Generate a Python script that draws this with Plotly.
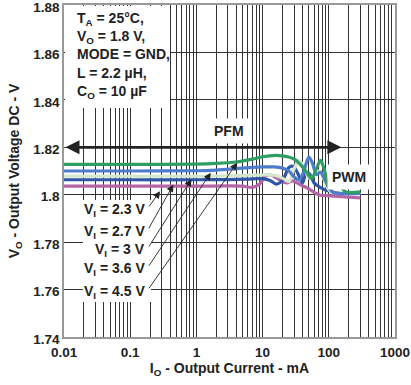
import math
import plotly.graph_objects as go

# ---- data ----
x_23 = [0.01, 0.1, 1, 3, 5, 7, 9, 11, 13, 16, 20, 24, 28, 33, 40, 50, 60, 75, 90, 120, 200, 300]
y_23 = [1.8036, 1.8036, 1.8036, 1.8037, 1.8036, 1.8031, 1.8045, 1.8078, 1.8083, 1.8072, 1.8055,
        1.8050, 1.8058, 1.8050, 1.8038, 1.8025, 1.8010, 1.7998, 1.7996, 1.7994, 1.7990, 1.7987]

x_27 = [0.01, 0.1, 1, 3, 6, 10, 13, 16, 20, 25, 29, 34, 40, 46, 52, 60, 75, 100, 150, 300]
y_27 = [1.8063, 1.8063, 1.8063, 1.8064, 1.8066, 1.8068, 1.8060, 1.8045, 1.8060, 1.8115, 1.8120,
        1.8090, 1.8050, 1.8095, 1.8085, 1.8050, 1.8030, 1.8015, 1.8005, 1.8005]

x_30 = [0.01, 0.1, 1, 3, 6, 10, 15, 20, 25, 30, 35, 42, 50, 60, 70, 80, 95, 110, 150, 300]
y_30 = [1.8078, 1.8078, 1.8078, 1.8080, 1.8082, 1.8084, 1.8082, 1.8070, 1.8055, 1.8110, 1.8145,
        1.8120, 1.8070, 1.8080, 1.8100, 1.8080, 1.8030, 1.8010, 1.8005, 1.8004]

x_36 = [0.01, 0.1, 1, 2, 4, 7, 10, 15, 20, 25, 30, 36, 42, 50, 57, 65, 75, 85, 100, 120, 160, 300]
y_36 = [1.8100, 1.8100, 1.8101, 1.8104, 1.8110, 1.8115, 1.8117, 1.8117, 1.8112, 1.8100, 1.8075,
        1.8062, 1.8100, 1.8160, 1.8130, 1.8085, 1.8095, 1.8070, 1.8030, 1.8008, 1.8006, 1.8006]

x_45 = [0.01, 0.1, 1, 2, 4, 7, 10, 14, 18, 24, 30, 38, 46, 55, 65, 75, 85, 100, 115, 130, 150, 180, 300]
y_45 = [1.8128, 1.8128, 1.8129, 1.8132, 1.8138, 1.8150, 1.8160, 1.8165, 1.8165, 1.8160, 1.8150,
        1.8125, 1.8095, 1.8068, 1.8110, 1.8145, 1.8110, 1.8030, 1.8050, 1.8085, 1.8040, 1.8012, 1.8012]

series = [
    ("V<sub>I</sub> = 2.3 V", x_23, y_23, "#b565a7"),
    ("V<sub>I</sub> = 2.7 V", x_27, y_27, "#2f55a4"),
    ("V<sub>I</sub> = 3 V", x_30, y_30, "#d4e6cc"),
    ("V<sub>I</sub> = 3.6 V", x_36, y_36, "#4d7ccc"),
    ("V<sub>I</sub> = 4.5 V", x_45, y_45, "#2f9e62"),
]

# arrow tips (current mA, voltage V) for each label
tip_x = [0.283, 0.449, 0.843, 1.65, 4.14]
tip_y = [1.8015, 1.8043, 1.8065, 1.8093, 1.8135]

x_tick_vals = [0.01, 0.1, 1, 10, 100, 1000]
x_tick_text = ["0.01", "0.1", "1", "10", "100", "1000"]
y_tick_vals = [1.74, 1.76, 1.78, 1.80, 1.82, 1.84, 1.86, 1.88]
y_tick_text = ["1.74", "1.76", "1.78", "1.8", "1.82", "1.84", "1.86", "1.88"]

pfm_end = 155  # mA

# ---- figure ----
FONT = "Liberation Sans, Arial, sans-serif"
TXT = "#222"
fig = go.Figure()
for name, xs, ys, col in series:
    fig.add_trace(go.Scatter(x=xs, y=ys, mode="lines", name=name,
                             line=dict(color=col, width=3.2, shape="spline", smoothing=0.8),
                             showlegend=False, hoverinfo="skip"))

# minor grid values: 2..9 per decade
minor_vals = []
for d in range(-2, 3):
    for m in range(2, 10):
        minor_vals.append(m * 10 ** d)

W, H = 411, 385
L, R, T, B = 64, 16, 5, 48
pw, ph = W - L - R, H - T - B

def px_x(px):
    return (px - L) / pw

def px_y(py):
    return 1 - (py - T) / ph

EPS_X = 0.0004
EPS_Y = 0.00002
fig.update_layout(
    width=W, height=H,
    margin=dict(l=L, r=R, t=T, b=B, autoexpand=False),
    paper_bgcolor="white", plot_bgcolor="white",
    font=dict(family=FONT, size=13, color=TXT, weight="bold"),
    xaxis=dict(type="log", range=[-2 - EPS_X, 3 + EPS_X], tickvals=x_tick_vals, ticktext=x_tick_text,
               automargin=False, ticklabeloverflow="allow", ticklabelstandoff=2,
               showgrid=True, gridcolor="#333", gridwidth=1,
               minor=dict(tickvals=minor_vals, showgrid=True, gridcolor="#333", gridwidth=1, ticks=""),
               ticks="", showline=True, linecolor="#999", linewidth=1.5, mirror=True,
               zeroline=False, tickfont=dict(size=13.5, weight="bold", color=TXT),
               title=dict(text="I<sub>O</sub> - Output Current - mA", standoff=4,
                          font=dict(size=14, weight="bold", color=TXT))),
    yaxis=dict(range=[1.74 - EPS_Y, 1.88 + EPS_Y], tickvals=y_tick_vals, ticktext=y_tick_text,
               automargin=False, ticklabeloverflow="allow", ticklabelshift=2,
               showgrid=True, gridcolor="#333", gridwidth=1,
               ticks="", showline=True, linecolor="#999", linewidth=1.5, mirror=True,
               zeroline=False, tickfont=dict(size=13.5, weight="bold", color=TXT),
               title=dict(text="V<sub>O</sub> - Output Voltage DC - V", standoff=10,
                          font=dict(size=14, weight="bold", color=TXT))),
)

shapes = [
    # top-left condition box
    dict(type="rect", xref="paper", yref="paper", x0=0.003, x1=px_x(170), y0=px_y(108), y1=0.997,
         fillcolor="white", line=dict(width=0), layer="above"),
    # label box
    dict(type="rect", xref="paper", yref="paper", x0=px_x(83), x1=px_x(151), y0=px_y(302), y1=px_y(200),
         fillcolor="white", line=dict(width=0), layer="above"),
]
fig.update_layout(shapes=shapes)

ann = []
ann.append(dict(xref="paper", yref="paper", x=px_x(75), y=px_y(8), xanchor="left", yanchor="top",
                align="left", showarrow=False,
                text="T<sub>A</sub> = 25°C,<br>V<sub>O</sub> = 1.8 V,<br>MODE = GND,<br>L = 2.2 µH,<br>C<sub>O</sub> = 10 µF",
                font=dict(size=14, weight="bold", color=TXT)))
ann.append(dict(xref="paper", yref="paper", x=px_x(229), y=px_y(131), showarrow=False,
                text="PFM", bgcolor="white", borderpad=4, font=dict(size=14, weight="bold", color=TXT)))
ann.append(dict(xref="paper", yref="paper", x=px_x(371), y=px_y(177), showarrow=False,
                text="PWM", bgcolor="white", borderpad=4, font=dict(size=14, weight="bold", color=TXT)))
# PFM double-headed arrow
ann.append(dict(x=math.log10(pfm_end), y=1.82, ax=-2, ay=1.82, axref="x", ayref="y",
                xref="x", yref="y", showarrow=True, arrowhead=2, arrowside="end+start",
                arrowsize=1.0, arrowwidth=2.8, arrowcolor=TXT, text=""))

label_y_px = [210, 231.7, 250, 269.3, 291.7]
label_end_px = 147
for (name, xs, ys, col), tx, ty, ly in zip(series, tip_x, tip_y, label_y_px):
    ann.append(dict(xref="paper", yref="paper", x=px_x(label_end_px), y=px_y(ly),
                    xanchor="right", yanchor="middle", showarrow=False, text=name,
                    font=dict(size=14, weight="bold", color=TXT)))
    tip_px_x = L + (math.log10(tx) + 2) / 5 * pw
    tip_px_y = T + (1.88 - ty) / 0.14 * ph
    ann.append(dict(x=math.log10(tx), y=ty, xref="x", yref="y", showarrow=True,
                    ax=(label_end_px + 1) - tip_px_x, ay=(ly - 2) - tip_px_y,
                    arrowhead=2, arrowsize=1.6, arrowwidth=0.9, arrowcolor=TXT, text=""))
fig.update_layout(annotations=ann)

fig.write_html("out.html", config={"displayModeBar": False},
               post_script="document.body.style.margin='0';document.body.style.padding='0';")
